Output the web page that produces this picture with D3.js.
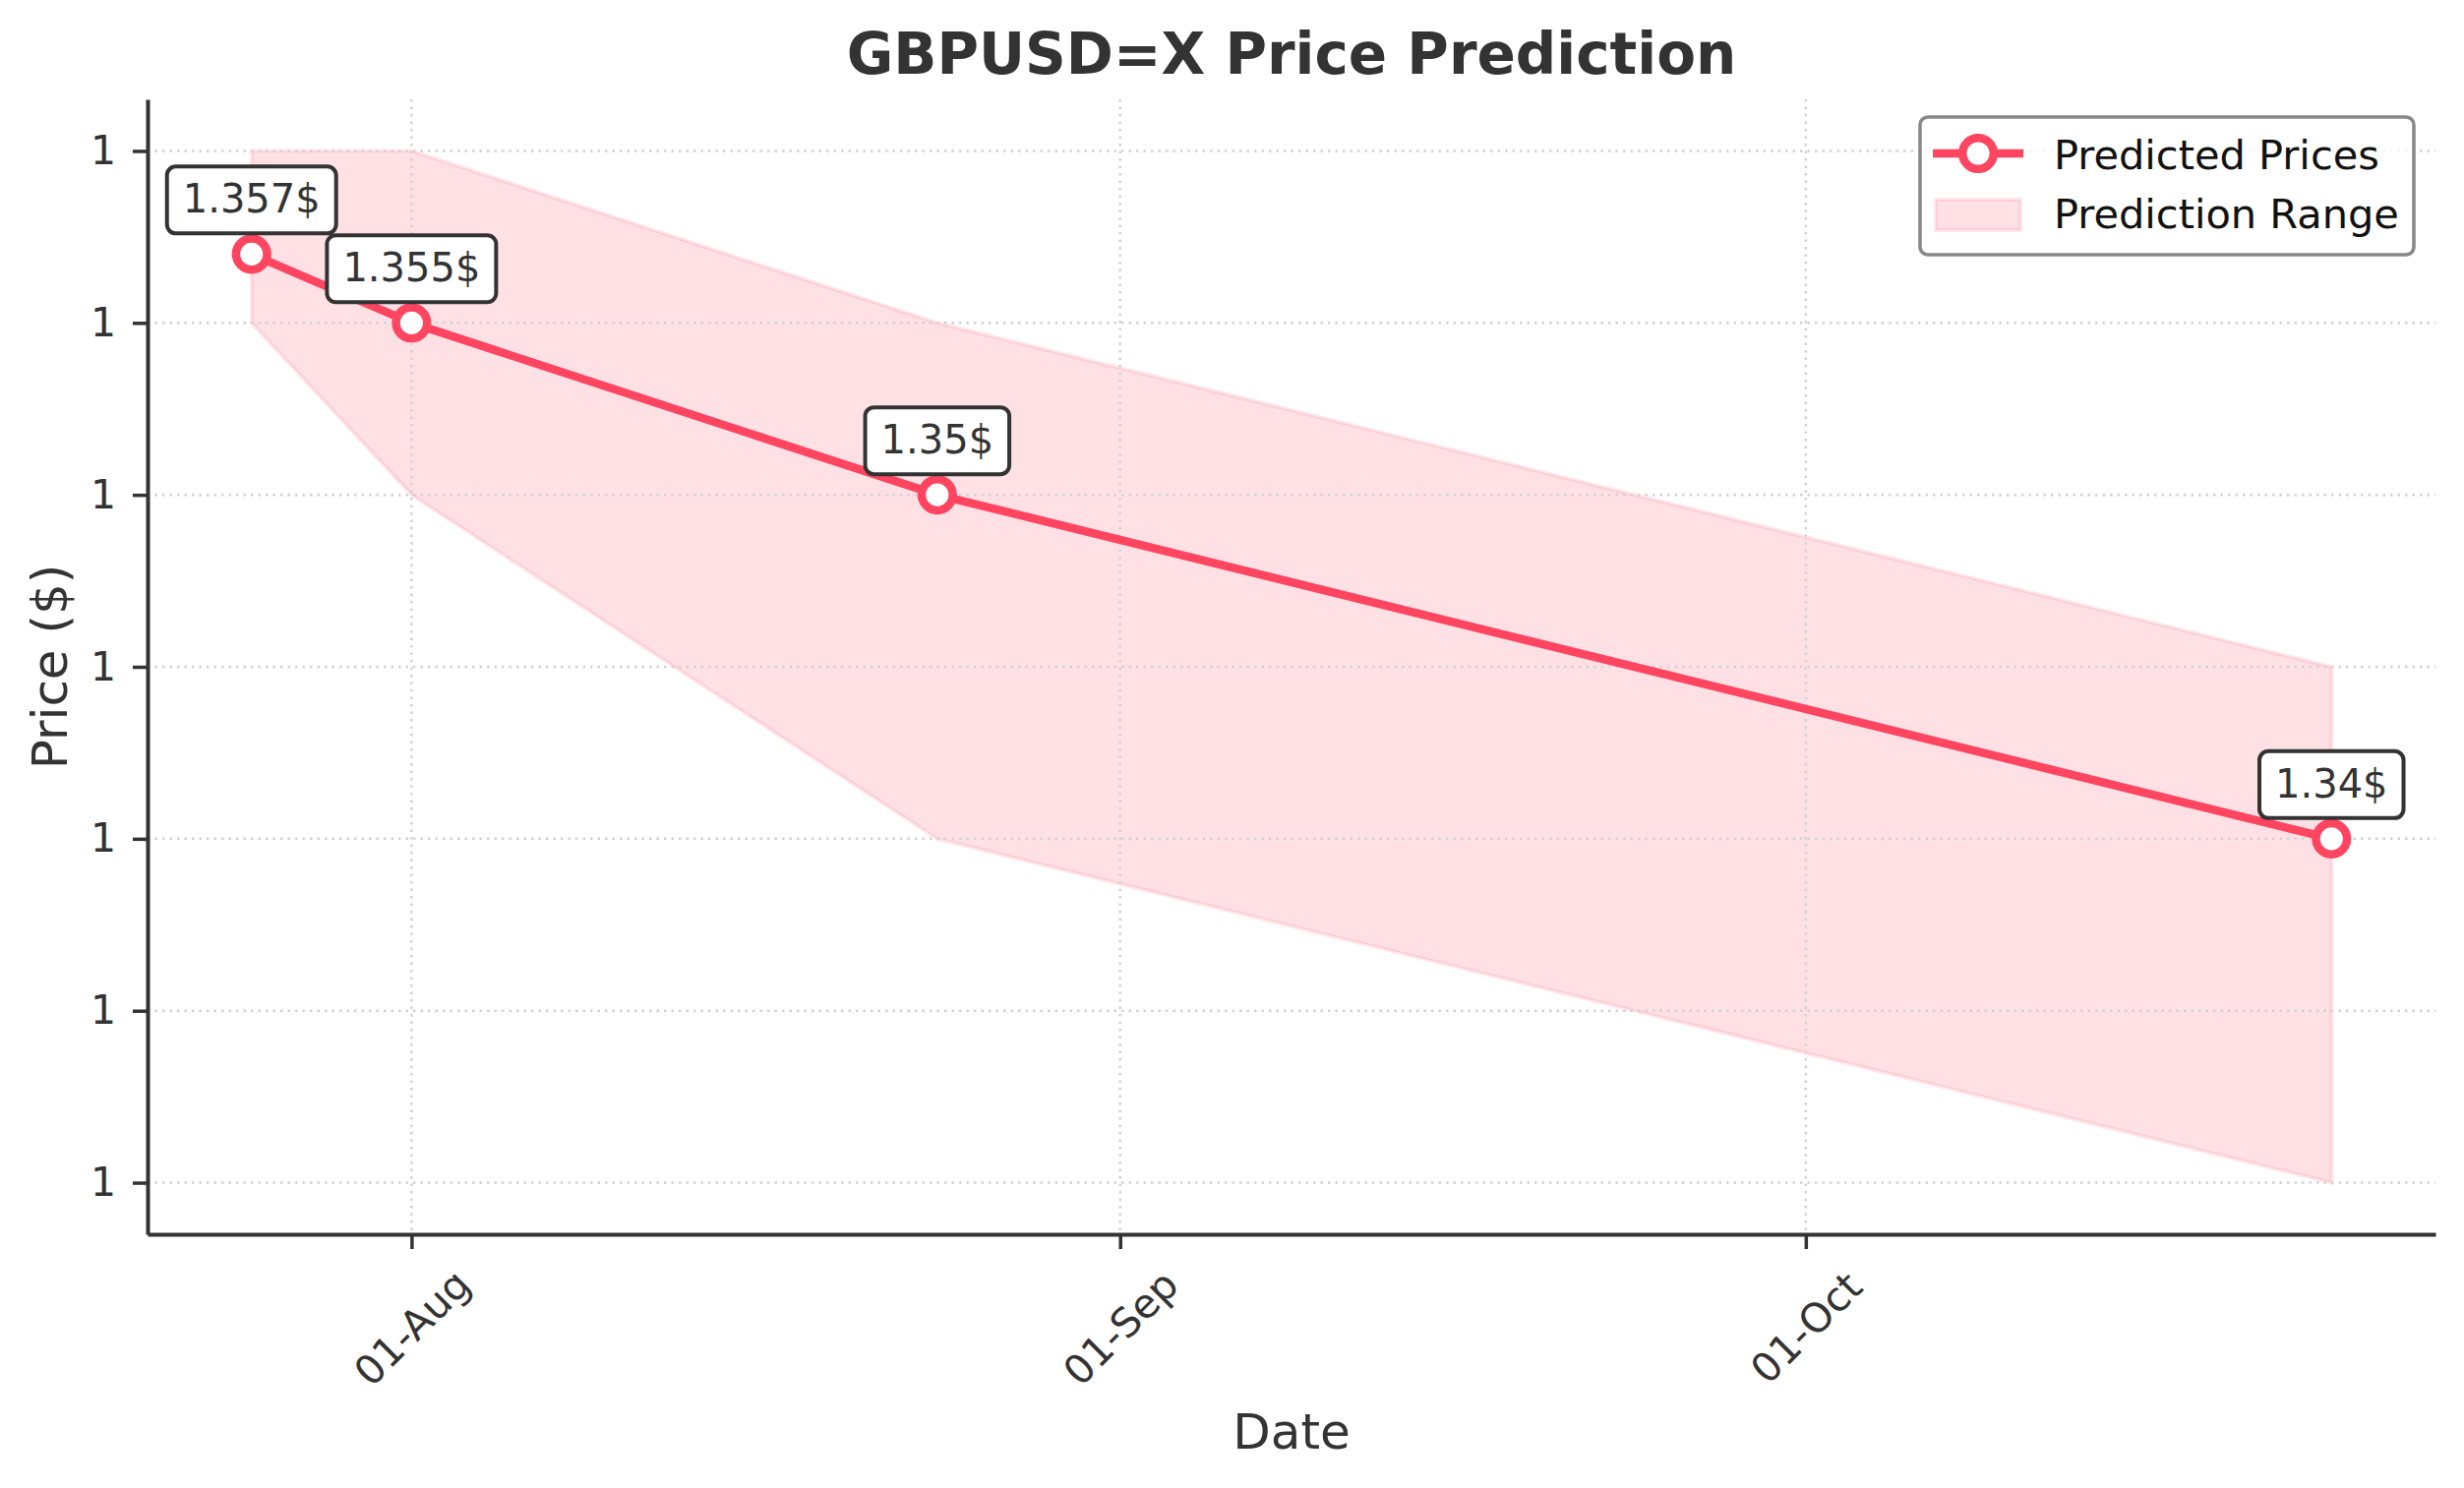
<!DOCTYPE html>
<html>
<head>
<meta charset="utf-8">
<script src="https://cdn.jsdelivr.net/npm/d3@7"></script>
<style>
  body { margin: 0; background: #fff; }
  text { font-family: "DejaVu Sans", sans-serif; }
</style>
</head>
<body>
<div id="chart"></div>
<script>
// Forecast points
const dates = ["2025-07-25", "2025-08-01", "2025-08-24", "2025-10-24"];
const predicted = [1.357, 1.355, 1.350, 1.340];
const upper = [1.360, 1.360, 1.355, 1.345];
const lower = [1.355, 1.350, 1.340, 1.330];

// Axis ticks
const yTicks = [1.330, 1.335, 1.340, 1.345, 1.350, 1.355, 1.360];
const xTicks = ["2025-08-01", "2025-09-01", "2025-10-01"];
const seriesNames = ["Predicted Prices", "Prediction Range"];

const parse = d3.timeParse("%Y-%m-%d");
const data = dates.map((d, i) => ({ date: parse(d), price: predicted[i], hi: upper[i], lo: lower[i] }));

const W = 2505, H = 1513;
const margin = { top: 101, right: 29, bottom: 258, left: 150 };
const width = W - margin.left - margin.right;
const height = H - margin.top - margin.bottom;

const lineColor = "#ff4560";
const textColor = "#333";

const root = d3.select("#chart")
    .append("svg")
    .attr("width", W)
    .attr("height", H);

const svg = root.append("g")
    .attr("transform", `translate(${margin.left},${margin.top})`);

// Scales (5% padding like matplotlib)
const t0 = data[0].date, t1 = data[data.length - 1].date;
const span = t1 - t0;
const x = d3.scaleTime()
    .domain([new Date(+t0 - 0.05 * span), new Date(+t1 + 0.05 * span)])
    .range([0, width]);

const yMin = d3.min(lower), yMax = d3.max(upper);
const yPad = (yMax - yMin) * 0.05;
const y = d3.scaleLinear()
    .domain([yMin - yPad, yMax + yPad])
    .range([height, 0]);

// Prediction range
svg.append("path")
    .datum(data)
    .attr("d", d3.area().x(d => x(d.date)).y0(d => y(d.lo)).y1(d => y(d.hi)))
    .attr("fill", lineColor)
    .attr("fill-opacity", 0.16)
    .attr("stroke", lineColor)
    .attr("stroke-opacity", 0.12)
    .attr("stroke-width", 4);

// Grid
svg.append("g").selectAll("line")
    .data(yTicks)
    .enter().append("line")
    .attr("x1", 0).attr("x2", width)
    .attr("y1", d => y(d)).attr("y2", d => y(d))
    .attr("stroke", "#d2d2d2")
    .attr("stroke-width", 2.5)
    .attr("stroke-dasharray", "2.5,5");

svg.append("g").selectAll("line")
    .data(xTicks.map(parse))
    .enter().append("line")
    .attr("x1", d => x(d)).attr("x2", d => x(d))
    .attr("y1", 0).attr("y2", height)
    .attr("stroke", "#d2d2d2")
    .attr("stroke-width", 2.5)
    .attr("stroke-dasharray", "2.5,5");

// Predicted line
svg.append("path")
    .datum(data)
    .attr("d", d3.line().x(d => x(d.date)).y(d => y(d.price)))
    .attr("fill", "none")
    .attr("stroke", lineColor)
    .attr("stroke-width", 8.5);

svg.selectAll(".dot")
    .data(data)
    .enter().append("circle")
    .attr("class", "dot")
    .attr("cx", d => x(d.date))
    .attr("cy", d => y(d.price))
    .attr("r", 15.8)
    .attr("fill", "#fff")
    .attr("stroke", lineColor)
    .attr("stroke-width", 8.5);

// Price labels
const notes = svg.selectAll(".note")
    .data(data)
    .enter().append("g")
    .attr("class", "note")
    .attr("transform", d => `translate(${x(d.date)},${y(d.price)})`);

const noteRects = notes.append("rect");
const noteTexts = notes.append("text")
    .attr("y", -42)
    .attr("text-anchor", "middle")
    .attr("font-size", 40)
    .attr("fill", textColor)
    .text(d => (+d.price.toFixed(3)) + "$");

noteTexts.each(function() {
    const tw = this.getComputedTextLength();
    d3.select(this.previousSibling)
        .attr("x", -tw / 2 - 16)
        .attr("y", -89)
        .attr("width", tw + 32)
        .attr("height", 68)
        .attr("rx", 9)
        .attr("fill", "#fff")
        .attr("stroke", textColor)
        .attr("stroke-width", 4);
});

// Y axis
const yAxis = svg.append("g")
    .call(d3.axisLeft(y).tickValues(yTicks).tickFormat(d3.format(".0f"))
        .tickSize(15).tickSizeOuter(0).tickPadding(17));

// X axis
const xAxis = svg.append("g")
    .attr("transform", `translate(0,${height})`)
    .call(d3.axisBottom(x).tickValues(xTicks.map(parse)).tickFormat(d3.timeFormat("%d-%b"))
        .tickSize(15).tickSizeOuter(0));

xAxis.selectAll("text")
    .attr("y", 0)
    .attr("dy", "0.35em")
    .attr("transform", "translate(0,95) rotate(-45)")
    .style("text-anchor", "middle");

[yAxis, xAxis].forEach(a => {
    a.select(".domain").attr("stroke", textColor).attr("stroke-width", 4);
    a.selectAll(".tick line").attr("stroke", textColor).attr("stroke-width", 3.5);
    a.selectAll("text").attr("font-size", 41).attr("fill", textColor)
        .attr("font-family", "DejaVu Sans");
});

// Axis labels
svg.append("text")
    .attr("x", width / 2)
    .attr("y", 1372)
    .attr("text-anchor", "middle")
    .attr("font-size", 50)
    .attr("fill", textColor)
    .text("Date");

svg.append("text")
    .attr("transform", "rotate(-90)")
    .attr("x", -height / 2)
    .attr("y", -82)
    .attr("text-anchor", "middle")
    .attr("font-size", 50)
    .attr("fill", textColor)
    .text("Price ($)");

// Title
root.append("text")
    .attr("x", margin.left + width / 2)
    .attr("y", 75)
    .attr("text-anchor", "middle")
    .attr("font-size", 58)
    .attr("font-weight", "bold")
    .attr("fill", textColor)
    .text("GBPUSD=X Price Prediction");

// Legend
const legend = root.append("g").attr("transform", "translate(1952,119)");
legend.append("rect")
    .attr("width", 502).attr("height", 140)
    .attr("rx", 8)
    .attr("fill", "#fff").attr("fill-opacity", 0.8)
    .attr("stroke", "#888").attr("stroke-width", 3.5);

legend.append("line")
    .attr("x1", 13).attr("x2", 105)
    .attr("y1", 37).attr("y2", 37)
    .attr("stroke", lineColor).attr("stroke-width", 8.5);
legend.append("circle")
    .attr("cx", 59).attr("cy", 37).attr("r", 15.8)
    .attr("fill", "#fff")
    .attr("stroke", lineColor).attr("stroke-width", 8.5);

legend.append("rect")
    .attr("x", 16).attr("y", 84)
    .attr("width", 86).attr("height", 31)
    .attr("fill", lineColor).attr("fill-opacity", 0.16)
    .attr("stroke", lineColor).attr("stroke-opacity", 0.12)
    .attr("stroke-width", 4);

legend.selectAll(".lbl")
    .data(seriesNames)
    .enter().append("text")
    .attr("class", "lbl")
    .attr("x", 136)
    .attr("y", (d, i) => 53 + i * 60)
    .attr("font-size", 41.5)
    .attr("fill", "#111")
    .text(d => d);
</script>
</body>
</html>
